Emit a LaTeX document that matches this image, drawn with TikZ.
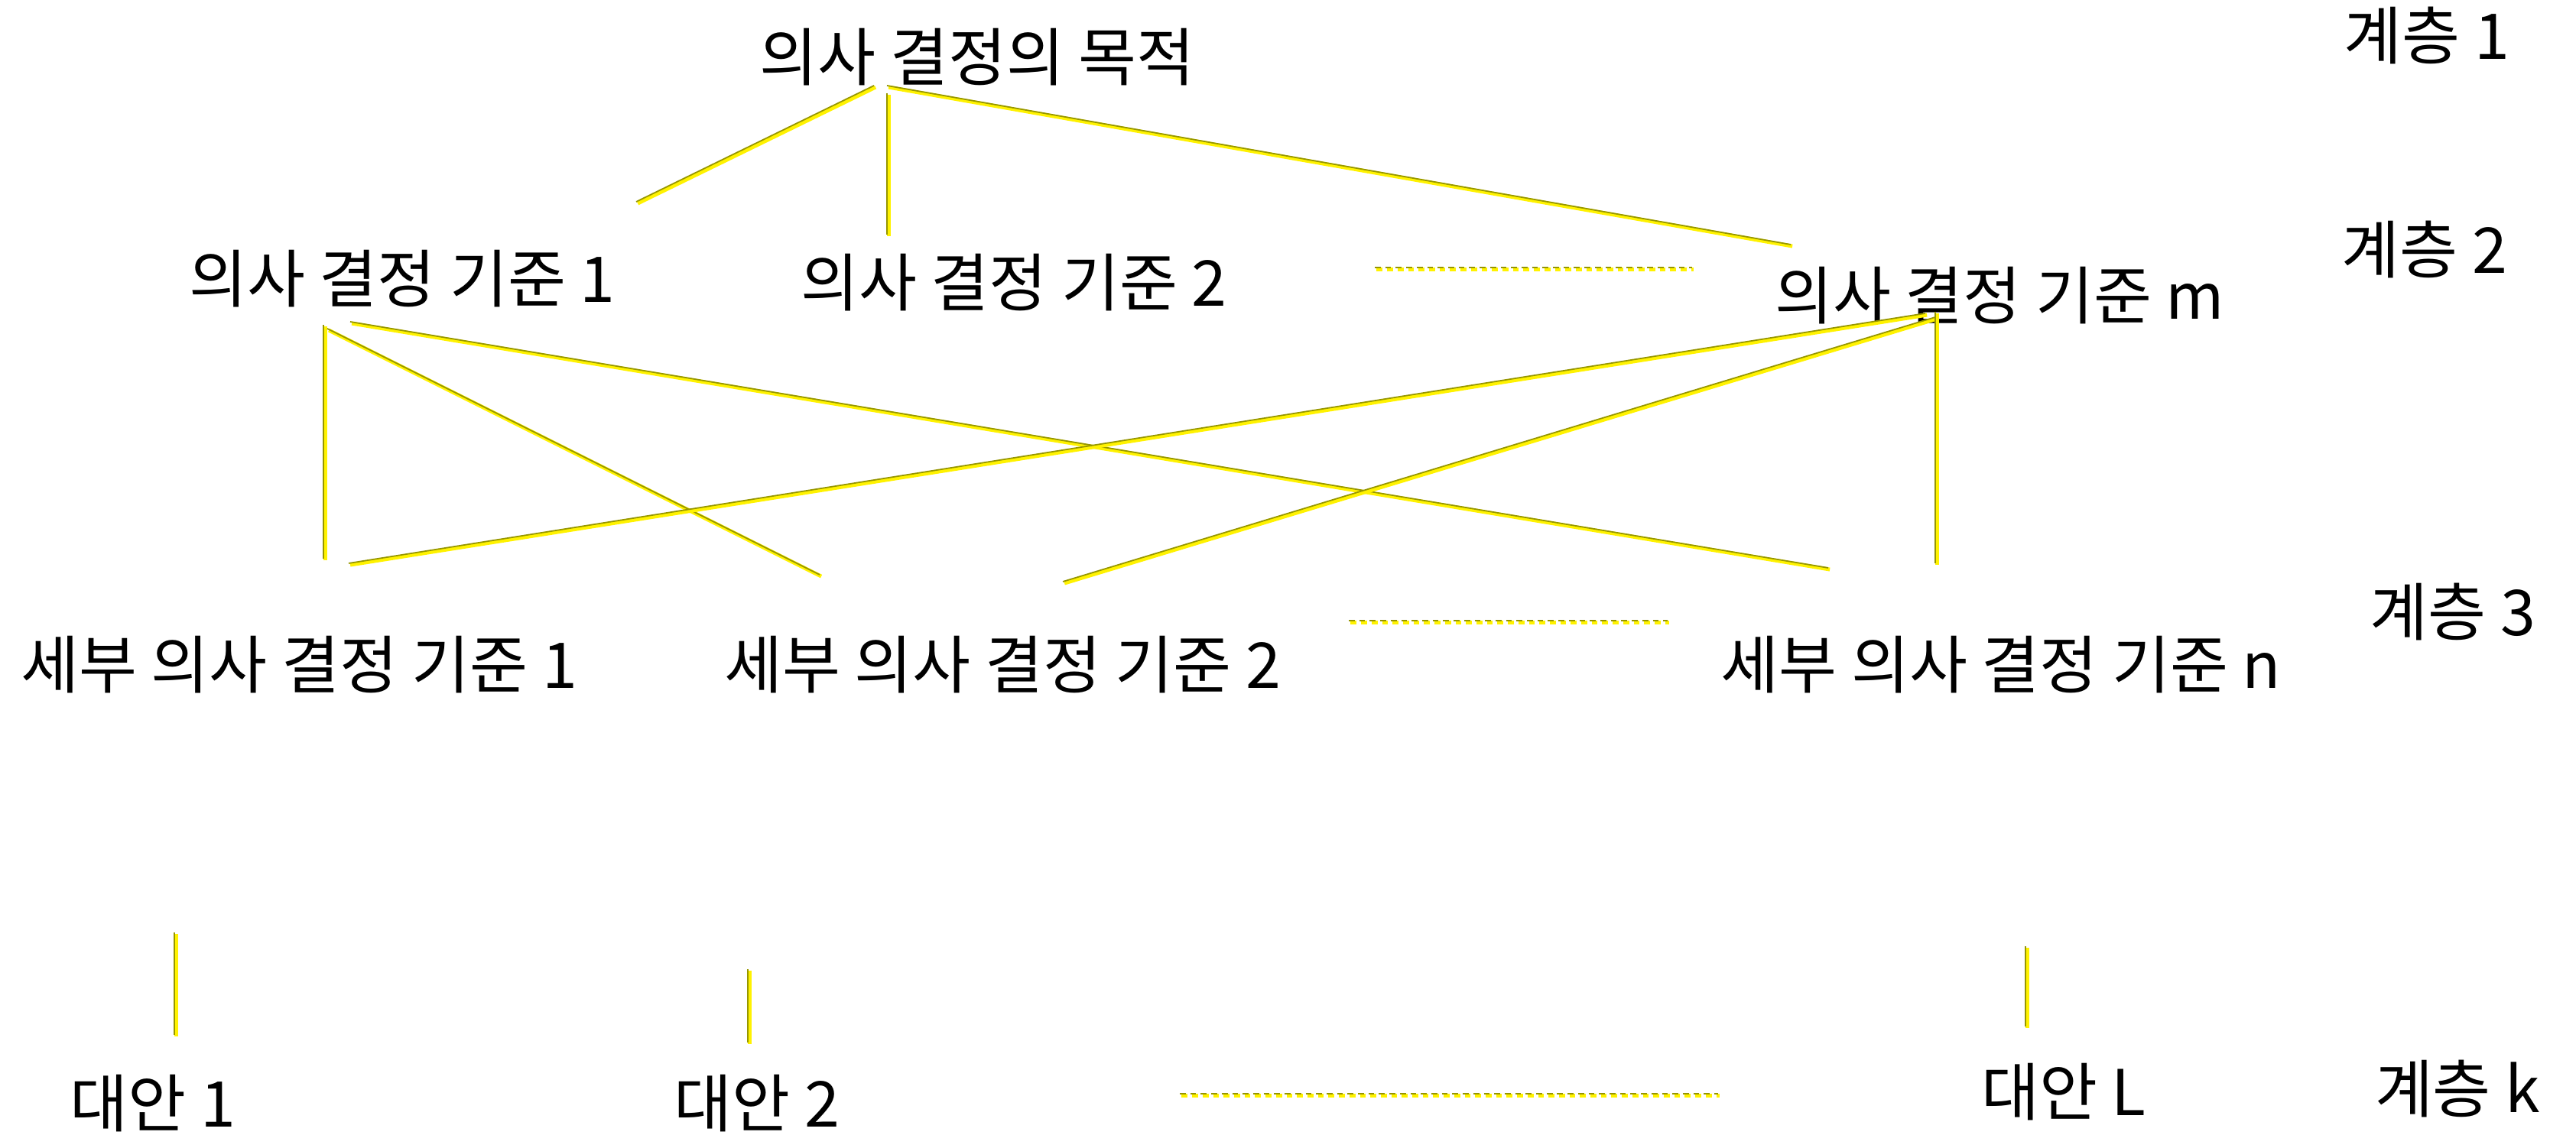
\documentclass[tikz,border=0pt]{standalone}
\usepackage{fontspec}
\setmainfont{Noto Sans CJK KR}
\begin{document}
\begin{tikzpicture}[
  lbl/.style={inner sep=0pt, font=\fontsize{23.5}{28}\selectfont},
  conn/.style={draw={rgb,255:red,150;green,150;blue,0}, line width=0.5pt,
    preaction={draw=yellow, line width=1.4pt, transform canvas={xshift=0.6pt,yshift=-0.6pt}}},
  dots/.style={draw={rgb,255:red,150;green,150;blue,0}, line width=0.7pt, dash pattern=on 2.2pt off 1.7pt,
    preaction={draw=yellow, line width=1.5pt, dash pattern=on 2.2pt off 1.7pt, transform canvas={xshift=0.7pt,yshift=-0.7pt}}}
]
\useasboundingbox (0,0) rectangle (33.69,14.85);
% texts
\node[lbl] (goal) at (12.78,14.10) {의사 결정의 목적};
\node[lbl] (h1) at (31.74,14.38) {계층 1};
\node[lbl] (c1) at (5.26,11.20) {의사 결정 기준 1};
\node[lbl] (c2) at (13.26,11.15) {의사 결정 기준 2};
\node[lbl] (cm) at (26.15,10.98) {의사 결정 기준 m};
\node[lbl] (h2) at (31.71,11.58) {계층 2};
\node[lbl] (s1) at (3.91,6.15) {세부 의사 결정 기준 1};
\node[lbl] (s2) at (13.11,6.15) {세부 의사 결정 기준 2};
\node[lbl] (sn) at (26.17,6.15) {세부 의사 결정 기준 n};
\node[lbl] (h3) at (32.08,6.84) {계층 3};
\node[lbl] (a1) at (2.00,0.41) {대안 1};
\node[lbl] (a2) at (9.90,0.41) {대안 2};
\node[lbl] (al) at (26.99,0.56) {대안 L};
\node[lbl] (hk) at (32.14,0.60) {계층 k};
% connector end points
\coordinate (g1) at (11.43,13.73);
\coordinate (g2) at (11.60,13.63);
\coordinate (g3) at (11.60,13.73);
\coordinate (c1top) at (8.32,12.21);
\coordinate (c2top) at (11.60,11.78);
\coordinate (cmtop) at (23.42,11.65);
\coordinate (c1a) at (4.23,10.60);
\coordinate (c1b) at (4.28,10.55);
\coordinate (c1c) at (4.58,10.64);
\coordinate (cma) at (25.18,10.75);
\coordinate (cmb) at (25.31,10.70);
\coordinate (cmc) at (25.31,10.77);
\coordinate (s1a) at (4.23,7.54);
\coordinate (s1b) at (4.56,7.48);
\coordinate (s2a) at (10.72,7.33);
\coordinate (s2b) at (13.90,7.24);
\coordinate (sna) at (23.91,7.42);
\coordinate (snb) at (25.31,7.48);
\coordinate (d1a) at (17.98,11.35);
\coordinate (d1b) at (22.13,11.35);
\coordinate (d2a) at (17.64,6.73);
\coordinate (d2b) at (21.81,6.73);
\coordinate (d3a) at (15.43,0.54);
\coordinate (d3b) at (22.47,0.54);
\coordinate (a1t) at (2.28,2.65);
\coordinate (a1b) at (2.28,1.31);
\coordinate (a2t) at (9.78,2.17);
\coordinate (a2b) at (9.78,1.21);
\coordinate (alt) at (26.49,2.47);
\coordinate (alb) at (26.49,1.42);
% connectors
\draw[conn] (g1) -- (c1top);
\draw[conn] (g2) -- (c2top);
\draw[conn] (g3) -- (cmtop);
\draw[conn] (c1a) -- (s1a);
\draw[conn] (c1b) -- (s2a);
\draw[conn] (c1c) -- (sna);
\draw[conn] (cma) -- (s1b);
\draw[conn] (cmb) -- (s2b);
\draw[conn] (cmc) -- (snb);
\draw[conn] (a1t) -- (a1b);
\draw[conn] (a2t) -- (a2b);
\draw[conn] (alt) -- (alb);
\draw[dots] (d1a) -- (d1b);
\draw[dots] (d2a) -- (d2b);
\draw[dots] (d3a) -- (d3b);
\end{tikzpicture}
\end{document}
